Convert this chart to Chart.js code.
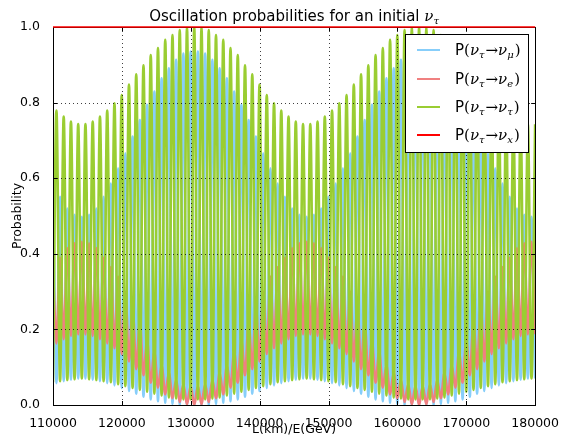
<!DOCTYPE html>
<html>
<head>
<meta charset="utf-8">
<script src="https://cdn.jsdelivr.net/npm/chart.js@4.4.0/dist/chart.umd.min.js"></script>
<style>
  html, body { margin: 0; padding: 0; background: #fff; }
</style>
</head>
<body>
<canvas id="chart" width="562" height="439"></canvas>
<script>
// L/E positions of the peaks and dips
const lOverE = [
  110000, 110500, 111027, 111553, 112080, 112606, 113133, 113659, 114186,
  114712, 115239, 115765, 116292, 116818, 117345, 117871, 118398, 118924, 119451, 119977,
  120504, 121030, 121557, 122083, 122610, 123136, 123663, 124189, 124716, 125242,
  125769, 126295, 126822, 127348, 127875, 128401, 128928, 129454, 129981, 130507,
  131034, 131560, 132087, 132613, 133140, 133666, 134193, 134719, 135246, 135772,
  136299, 136825, 137352, 137878, 138405, 138931, 139458, 139984, 140511, 141037,
  141564, 142090, 142617, 143143, 143670, 144196, 144723, 145249, 145776, 146302, 146829,
  147355, 147882, 148408, 148935, 149461, 149988, 150514, 151041, 151567, 152094,
  152620, 153147, 153673, 154200, 154726, 155253, 155779, 156306, 156832, 157359,
  157885, 158412, 158938, 159465, 159991, 160518, 161044, 161571, 162097, 162624, 163150,
  163677, 164203, 164730, 165256, 165783, 166309, 166836, 167362, 167889, 168415,
  168942, 169468, 169995, 170521, 171048, 171574, 172101, 172627, 173154, 173680,
  174207, 174733, 175260, 175786, 176313, 176839, 177366, 177892, 178419, 178945, 179472,
  180000
];

// P(nu_tau -> nu_mu)
const pMu = [
  0.586, 0.058, 0.551, 0.063, 0.52, 0.067, 0.503, 0.07, 0.498,
  0.07, 0.503, 0.067, 0.52, 0.063, 0.551, 0.058, 0.586, 0.052, 0.626,
  0.045, 0.666, 0.037, 0.71, 0.03, 0.754, 0.022, 0.794, 0.015, 0.829,
  0.01, 0.864, 0.006, 0.891, 0.003, 0.913, 0.0, 0.93, 0.0, 0.935, 0.0,
  0.935, 0.0, 0.93, 0.0, 0.913, 0.003, 0.891, 0.006, 0.864, 0.01,
  0.829, 0.015, 0.794, 0.022, 0.754, 0.03, 0.71, 0.037, 0.666, 0.045,
  0.626, 0.052, 0.586, 0.058, 0.551, 0.063, 0.52, 0.067, 0.503, 0.07, 0.498,
  0.07, 0.503, 0.067, 0.52, 0.063, 0.551, 0.058, 0.586, 0.052, 0.626,
  0.045, 0.666, 0.037, 0.71, 0.03, 0.754, 0.022, 0.794, 0.015, 0.829,
  0.01, 0.864, 0.006, 0.891, 0.003, 0.913, 0.0, 0.93, 0.0, 0.935, 0.0,
  0.935, 0.0, 0.93, 0.0, 0.913, 0.003, 0.891, 0.006, 0.864, 0.01,
  0.829, 0.015, 0.794, 0.022, 0.754, 0.03, 0.71, 0.037, 0.666, 0.045,
  0.626, 0.052, 0.586, 0.058, 0.551, 0.063, 0.52, 0.067, 0.503, 0.07, 0.498,
  0.07
];

// P(nu_tau -> nu_e)
const pE = [
  0.365, 0.163, 0.39, 0.174, 0.415, 0.183, 0.428, 0.187, 0.432,
  0.187, 0.428, 0.183, 0.415, 0.174, 0.39, 0.163, 0.365, 0.15, 0.34,
  0.135, 0.3, 0.115, 0.26, 0.095, 0.22, 0.079, 0.17, 0.059, 0.14,
  0.046, 0.105, 0.028, 0.085, 0.018, 0.066, 0.008, 0.055, 0.002, 0.05, 0.0,
  0.05, 0.002, 0.055, 0.008, 0.066, 0.018, 0.085, 0.028, 0.105, 0.046,
  0.14, 0.059, 0.17, 0.079, 0.22, 0.095, 0.26, 0.115, 0.3, 0.135,
  0.34, 0.15, 0.365, 0.163, 0.39, 0.174, 0.415, 0.183, 0.428, 0.187, 0.432,
  0.187, 0.428, 0.183, 0.415, 0.174, 0.39, 0.163, 0.365, 0.15, 0.34,
  0.135, 0.3, 0.115, 0.26, 0.095, 0.22, 0.079, 0.17, 0.059, 0.14,
  0.046, 0.105, 0.028, 0.085, 0.018, 0.066, 0.008, 0.055, 0.002, 0.05, 0.0,
  0.05, 0.002, 0.055, 0.008, 0.066, 0.018, 0.085, 0.028, 0.105, 0.046,
  0.14, 0.059, 0.17, 0.079, 0.22, 0.095, 0.26, 0.115, 0.3, 0.135,
  0.34, 0.15, 0.365, 0.163, 0.39, 0.174, 0.415, 0.183, 0.428, 0.187, 0.432,
  0.187
];

// P(nu_tau -> nu_tau)
const pTau = [
  0.06, 0.779, 0.063, 0.763, 0.066, 0.75, 0.068, 0.743, 0.07,
  0.743, 0.068, 0.75, 0.066, 0.763, 0.063, 0.779, 0.06, 0.798, 0.055,
  0.82, 0.05, 0.848, 0.045, 0.875, 0.04, 0.899, 0.035, 0.926, 0.03,
  0.944, 0.025, 0.966, 0.02, 0.979, 0.017, 0.992, 0.015, 0.998, 0.015, 1.0,
  0.015, 0.998, 0.015, 0.992, 0.017, 0.979, 0.02, 0.966, 0.025, 0.944,
  0.03, 0.926, 0.035, 0.899, 0.04, 0.875, 0.045, 0.848, 0.05, 0.82,
  0.055, 0.798, 0.06, 0.779, 0.063, 0.763, 0.066, 0.75, 0.068, 0.743, 0.07,
  0.743, 0.068, 0.75, 0.066, 0.763, 0.063, 0.779, 0.06, 0.798, 0.055,
  0.82, 0.05, 0.848, 0.045, 0.875, 0.04, 0.899, 0.035, 0.926, 0.03,
  0.944, 0.025, 0.966, 0.02, 0.979, 0.017, 0.992, 0.015, 0.998, 0.015, 1.0,
  0.015, 0.998, 0.015, 0.992, 0.017, 0.979, 0.02, 0.966, 0.025, 0.944,
  0.03, 0.926, 0.035, 0.899, 0.04, 0.875, 0.045, 0.848, 0.05, 0.82,
  0.055, 0.798, 0.06, 0.779, 0.063, 0.763, 0.066, 0.75, 0.068, 0.743, 0.07,
  0.743
];

// P(nu_tau -> nu_x), the sum, flat at 1
const xEnds = [110000, 180000];
const pX = [1.0, 1.0];

const xTicks = [110000, 120000, 130000, 140000, 150000, 160000, 170000, 180000];
const yTicks = [0.0, 0.2, 0.4, 0.6, 0.8, 1.0];

const colMu = '#87cefa';
const colE = '#f08080';
const colTau = '#9acd32';
const colX = '#ff0000';

function pts(xs, ys) {
  return xs.map((x, i) => ({ x: x, y: ys[i] }));
}

// draws a mathtext-like string from pieces
function drawPieces(ctx, x, y, pieces) {
  ctx.textBaseline = 'alphabetic';
  ctx.textAlign = 'left';
  pieces.forEach(p => {
    ctx.font = p.font;
    ctx.fillText(p.t, x, y + (p.dy || 0));
    x += ctx.measureText(p.t).width + (p.gap || 0);
  });
  return x;
}

const sans = '15px "DejaVu Sans"';
const serif = '15px "DejaVu Serif"';
const nu = 'italic 15px "DejaVu Serif"';
const sub = 'italic 10px "DejaVu Serif"';

function legendPieces(last) {
  return [
    { t: 'P', font: sans },
    { t: '(', font: serif },
    { t: 'ν', font: nu },
    { t: 'τ', font: sub, dy: 3, gap: 1 },
    { t: '→', font: serif },
    { t: 'ν', font: nu },
    { t: last, font: sub, dy: 3, gap: 1 },
    { t: ')', font: serif }
  ];
}

const legendItems = [
  { color: colMu, sym: 'μ' },
  { color: colE, sym: 'e' },
  { color: colTau, sym: 'τ' },
  { color: colX, sym: 'x' }
];

const framePlugin = {
  id: 'frame',
  afterDatasetDraw(chart, args) {
    // grid sits above the curves but below the red line
    if (args.index !== 1) return;
    const ctx = chart.ctx;
    const a = chart.chartArea;
    const xs = chart.scales.x, ys = chart.scales.y;
    ctx.save();
    ctx.strokeStyle = 'rgba(0,0,0,0.75)';
    ctx.lineWidth = 1;
    ctx.setLineDash([1, 3]);
    xTicks.forEach(v => {
      const px = Math.round(xs.getPixelForValue(v)) + 0.5;
      ctx.beginPath(); ctx.moveTo(px, a.top); ctx.lineTo(px, a.bottom); ctx.stroke();
    });
    yTicks.forEach(v => {
      const py = Math.round(ys.getPixelForValue(v)) + 0.5;
      ctx.beginPath(); ctx.moveTo(a.left, py); ctx.lineTo(a.right, py); ctx.stroke();
    });
    ctx.setLineDash([]);
    ctx.strokeStyle = '#000';
    // inward ticks
    xTicks.forEach(v => {
      const px = Math.round(xs.getPixelForValue(v)) + 0.5;
      ctx.beginPath(); ctx.moveTo(px, a.bottom); ctx.lineTo(px, a.bottom - 4); ctx.stroke();
      ctx.beginPath(); ctx.moveTo(px, a.top); ctx.lineTo(px, a.top + 4); ctx.stroke();
    });
    yTicks.forEach(v => {
      const py = Math.round(ys.getPixelForValue(v)) + 0.5;
      ctx.beginPath(); ctx.moveTo(a.left, py); ctx.lineTo(a.left + 4, py); ctx.stroke();
      ctx.beginPath(); ctx.moveTo(a.right, py); ctx.lineTo(a.right - 4, py); ctx.stroke();
    });
    ctx.strokeRect(Math.round(a.left) + 0.5, Math.round(a.top) + 0.5,
      Math.round(a.right - a.left), Math.round(a.bottom - a.top));
    ctx.restore();
  },
  afterDraw(chart) {
    const ctx = chart.ctx;
    const a = chart.chartArea;
    ctx.save();
    ctx.fillStyle = '#000';
    // title
    const titlePieces = [
      { t: 'Oscillation probabilities for an initial ', font: sans },
      { t: 'ν', font: nu },
      { t: 'τ', font: sub, dy: 3 }
    ];
    let w = 0;
    titlePieces.forEach(p => { ctx.font = p.font; w += ctx.measureText(p.t).width; });
    drawPieces(ctx, (a.left + a.right) / 2 - w / 2, 21, titlePieces);

    // legend box
    const bx = 405.5, by = 34.5, bw = 123, bh = 118;
    ctx.fillStyle = '#fff';
    ctx.fillRect(bx, by, bw, bh);
    ctx.strokeStyle = '#000';
    ctx.lineWidth = 1;
    ctx.strokeRect(bx, by, bw, bh);
    const rows = [50, 79, 107, 135];
    legendItems.forEach((it, i) => {
      ctx.strokeStyle = it.color;
      ctx.lineWidth = 2;
      ctx.beginPath(); ctx.moveTo(417, rows[i]); ctx.lineTo(440, rows[i]); ctx.stroke();
      ctx.fillStyle = '#000';
      drawPieces(ctx, 455, rows[i] + 5, legendPieces(it.sym));
    });
    ctx.restore();
  }
};

const lineOpts = {
  pointRadius: 0,
  fill: false,
  cubicInterpolationMode: 'monotone'
};

new Chart(document.getElementById('chart').getContext('2d'), {
  type: 'line',
  data: {
    datasets: [
      Object.assign({ label: 'x', data: pts(xEnds, pX), borderColor: colX, borderWidth: 1.5, order: 0, clip: false }, lineOpts),
      Object.assign({ label: 'tau', data: pts(lOverE, pTau), borderColor: colTau, borderWidth: 2.6, order: 1 }, lineOpts),
      Object.assign({ label: 'e', data: pts(lOverE, pE), borderColor: colE, borderWidth: 2.6, order: 2 }, lineOpts),
      Object.assign({ label: 'mu', data: pts(lOverE, pMu), borderColor: colMu, borderWidth: 2.6, order: 3 }, lineOpts)
    ]
  },
  options: {
    responsive: false,
    animation: false,
    layout: { padding: { top: 27, right: 26, left: 0, bottom: 0 } },
    plugins: { legend: { display: false }, title: { display: false }, tooltip: { enabled: false } },
    scales: {
      x: {
        type: 'linear',
        min: 110000, max: 180000,
        afterBuildTicks: s => { s.ticks = xTicks.map(v => ({ value: v })); },
        afterFit: s => { s.height = 34; },
        grid: { display: false },
        border: { display: false },
        ticks: {
          color: '#000', padding: 3, maxRotation: 0,
          font: { family: 'DejaVu Sans', size: 12.5 },
          callback: v => String(v)
        },
        title: {
          display: true, text: 'L(km)/E(GeV)', color: '#000',
          font: { family: 'DejaVu Sans', size: 12.5 }, padding: { top: 0, bottom: 2 }
        }
      },
      y: {
        min: 0, max: 1,
        afterBuildTicks: s => { s.ticks = yTicks.map(v => ({ value: v })); },
        afterFit: s => { s.width = 53; },
        grid: { display: false },
        border: { display: false },
        ticks: {
          color: '#000', padding: 5,
          font: { family: 'DejaVu Sans', size: 12.5 },
          callback: v => v.toFixed(1)
        },
        title: {
          display: true, text: 'Probability', color: '#000',
          font: { family: 'DejaVu Sans', size: 12.5 }, padding: { top: 10, bottom: 0 }
        }
      }
    }
  },
  plugins: [framePlugin]
});
</script>
</body>
</html>
